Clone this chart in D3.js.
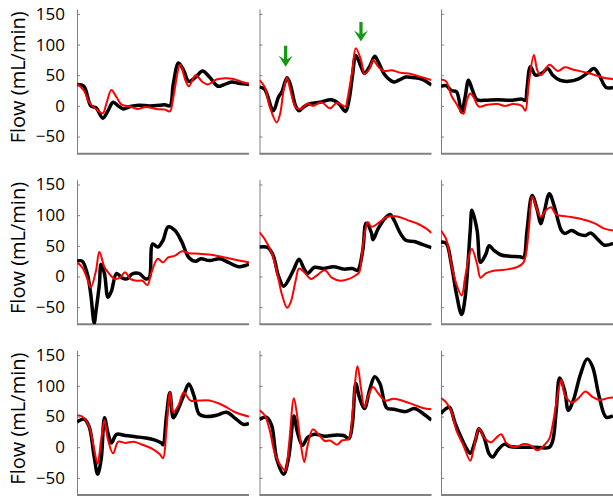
<!DOCTYPE html>
<html>
<head>
<meta charset="utf-8">
<title>Flow panels</title>
<script src="https://cdn.jsdelivr.net/npm/d3@7"></script>
<style>
  body { margin: 0; background: #fff; }
  svg text { font-family: "Open Sans", sans-serif; fill: #000; }
  .axis path, .axis line { stroke: #808080; }
</style>
</head>
<body>
<svg id="chart" width="613" height="498"></svg>
<script>
// values, x = % of cycle, y = flow (mL/min)
var yTicks = [-50, 0, 50, 100, 150];
var yLabel = "Flow (mL/min)";

var black1 = [[0,35],[4,32],[8,0],[11,-3],[15,-20],[18,-8],[21,6],[24,0],[27,-5],[31,-1],[36,1],[42,0],[48,1],[51,2],[54,0],[56,36],[59,70],[62,58],[65,40],[69,47],[73,57],[77,47],[82,32],[85,34],[90,39],[94,37],[100,35]];
var red1 = [[0,36],[4,25],[7,6],[11,-5],[15,-12],[17,3],[20,26],[23,14],[26,2],[31,-1],[35,-5],[40,-2],[46,-5],[51,-6],[54,-9],[56,14],[60,67],[63,42],[65,32],[69,50],[73,39],[76,35],[81,43],[86,45],[91,44],[96,39],[100,36]];

var black2 = [[0,31],[3,27],[8,-8],[11,14],[13,23],[16,46],[18,34],[21,0],[23,-8],[26,-1],[30,4],[35,6],[42,10],[46,4],[50,-9],[52,9],[54,48],[56,82],[59,64],[61,53],[64,64],[67,81],[69,72],[73,50],[78,39],[81,42],[85,47],[90,46],[95,43],[100,34]];
var red2 = [[0,42],[3,31],[6,-2],[10,-27],[12,-13],[14,25],[16,46],[18,25],[21,-2],[24,-5],[28,4],[31,0],[36,6],[41,-4],[45,5],[50,-1],[51,9],[54,58],[56,94],[59,75],[61,52],[64,61],[66,75],[69,64],[72,57],[77,58],[82,54],[88,52],[94,47],[100,42]];

var black3 = [[0,32],[3,33],[6,25],[9,23],[12,-10],[14,14],[16,42],[18,28],[21,10],[25,9],[33,10],[40,9],[47,11],[49,9],[50,28],[52,64],[55,50],[59,54],[62,61],[65,50],[69,42],[74,40],[80,44],[85,53],[89,61],[92,50],[96,30],[100,30]];
var red3 = [[0,43],[3,40],[6,17],[9,3],[13,-13],[15,9],[17,20],[19,14],[22,-1],[27,2],[33,3],[37,0],[42,3],[47,0],[49,-8],[51,36],[54,83],[56,58],[58,50],[63,67],[68,57],[72,63],[77,59],[85,54],[91,49],[96,45],[100,44]];

var black4 = [[0,25],[3,25],[6,4],[8,-29],[10,-76],[11,-57],[13,-13],[14,20],[16,4],[18,-34],[20,-24],[23,5],[26,-2],[29,-4],[32,4],[36,5],[40,-4],[42,-2],[44,53],[47,48],[50,59],[53,81],[57,75],[61,56],[65,31],[69,25],[72,29],[77,26],[83,29],[88,23],[94,16],[98,18],[100,20]];
var red4 = [[0,23],[3,15],[6,-4],[8,-18],[11,9],[13,40],[16,15],[18,7],[22,-4],[25,-2],[28,7],[31,-4],[35,-7],[38,-7],[41,-14],[43,4],[47,29],[50,23],[53,31],[57,34],[61,41],[65,38],[71,37],[79,35],[86,31],[94,26],[100,23]];

var black5 = [[0,48],[5,47],[8,34],[11,1],[14,-16],[17,-5],[20,12],[23,28],[26,12],[28,5],[32,15],[37,13],[43,16],[49,12],[54,13],[57,10],[60,42],[62,87],[65,72],[66,60],[69,78],[73,95],[76,101],[78,93],[82,70],[85,59],[90,57],[95,52],[100,47]];
var red5 = [[0,72],[3,61],[7,39],[10,9],[13,-29],[16,-51],[18,-43],[21,-7],[23,13],[26,7],[30,-4],[33,1],[38,10],[42,-2],[47,-7],[52,-4],[56,2],[58,7],[60,48],[63,89],[65,81],[67,83],[70,89],[74,97],[80,98],[86,92],[92,86],[97,78],[100,71]];

var black6 = [[0,56],[3,54],[6,20],[9,-29],[12,-62],[14,-35],[17,75],[18,108],[21,75],[23,23],[26,36],[28,50],[31,42],[35,35],[40,33],[46,32],[48,31],[50,75],[53,132],[56,108],[58,86],[60,105],[63,135],[66,113],[70,75],[72,70],[76,75],[80,69],[84,67],[87,71],[91,61],[95,51],[100,54]];
var red6 = [[0,75],[3,61],[6,20],[9,-13],[12,-31],[14,-2],[17,41],[18,45],[21,20],[23,-2],[26,5],[30,9],[37,11],[44,15],[48,23],[51,75],[53,130],[56,108],[58,97],[61,108],[64,113],[67,101],[73,98],[81,94],[89,87],[95,78],[100,75]];

var black7 = [[0,41],[4,46],[7,34],[10,-16],[12,-44],[14,-21],[16,48],[18,23],[20,7],[23,21],[28,19],[34,17],[40,15],[45,12],[49,7],[50,4],[52,51],[54,89],[56,48],[58,57],[62,84],[65,103],[68,84],[71,54],[75,50],[81,52],[87,57],[92,47],[97,37],[100,39]];
var red7 = [[0,52],[3,50],[7,34],[10,-4],[12,-27],[14,12],[16,44],[18,12],[21,-10],[24,9],[28,7],[33,9],[38,4],[44,-3],[48,-11],[50,-18],[52,29],[54,90],[56,57],[59,68],[62,89],[66,76],[71,76],[77,76],[85,68],[92,57],[100,50]];

var black8 = [[0,45],[4,49],[7,36],[10,-19],[14,-44],[17,-16],[20,51],[22,25],[25,3],[28,16],[32,21],[38,18],[45,20],[49,19],[52,14],[54,38],[56,104],[58,82],[61,63],[64,93],[67,115],[70,104],[74,64],[78,62],[85,58],[90,63],[95,55],[100,44]];
var red8 = [[0,60],[3,52],[6,27],[9,-11],[13,-33],[15,-38],[17,0],[20,80],[22,49],[24,5],[26,-24],[28,3],[31,29],[34,22],[38,10],[41,11],[45,4],[48,11],[52,14],[54,55],[57,132],[59,96],[61,65],[63,82],[66,98],[69,88],[73,76],[78,79],[84,75],[90,69],[95,64],[100,62]];

var black9 = [[0,55],[3,63],[5,65],[8,41],[12,14],[15,-3],[17,-10],[20,11],[22,30],[25,16],[28,-11],[30,-16],[33,-5],[37,5],[40,1],[46,0],[54,0],[63,0],[65,11],[67,60],[69,113],[72,91],[74,60],[77,77],[81,118],[85,144],[88,132],[92,82],[96,49],[100,51]];
var red9 = [[0,80],[3,73],[6,58],[9,27],[13,3],[17,-22],[19,-3],[22,30],[25,16],[29,8],[32,15],[35,21],[38,7],[43,0],[48,5],[52,3],[56,-5],[60,3],[63,14],[65,38],[67,71],[70,110],[72,85],[76,73],[80,80],[84,91],[88,82],[92,77],[97,80],[100,81]];

// green arrows in panel 2: [x, tip value, top value]
var arrows = [[15.2, 64, 98], [59, 105, 137]];

var panels = [
  [black1, red1], [black2, red2], [black3, red3],
  [black4, red4], [black5, red5], [black6, red6],
  [black7, red7], [black8, red8], [black9, red9]
];

var colX = [77, 259.5, 441],
    rowTop = [9, 179.6, 350.3],
    pw = 172, ph = 144.7;

var svg = d3.select('#chart');

var x = d3.scaleLinear().domain([0, 100]).range([0, pw]);
var y = d3.scaleLinear().domain([-78, 158]).range([ph, 0]);

var line = d3.line()
  .x(function(d) { return x(d[0]); })
  .y(function(d) { return y(d[1]); })
  .curve(d3.curveCatmullRom.alpha(0.5));

svg.append('defs').append('clipPath').attr('id', 'clip')
  .append('rect').attr('x', 0).attr('y', 0).attr('width', pw).attr('height', ph);

panels.forEach(function(p, i) {
  var r = Math.floor(i / 3), c = i % 3;
  var g = svg.append('g').attr('transform', 'translate(' + colX[c] + ',' + rowTop[r] + ')');

  var ax = d3.axisLeft(y).tickValues(yTicks).tickSizeInner(-3).tickSizeOuter(0).tickPadding(12);
  if (c > 0) ax.tickFormat('');
  g.append('g').attr('class', 'axis').call(ax)
    .call(function(a) { a.selectAll('text').style('font-size', '17px').attr('fill', '#000'); });

  g.append('line').attr('class', 'axis')
    .attr('x1', 0).attr('x2', pw).attr('y1', ph).attr('y2', ph)
    .attr('stroke', '#808080').attr('stroke-width', 2);

  var plot = g.append('g').attr('clip-path', 'url(#clip)');
  plot.append('path').datum(p[0]).attr('d', line)
    .attr('fill', 'none').attr('stroke', '#000').attr('stroke-width', 3.5)
    .attr('stroke-linejoin', 'round');
  plot.append('path').datum(p[1]).attr('d', line)
    .attr('fill', 'none').attr('stroke', '#ff0000').attr('stroke-width', 2)
    .attr('stroke-linejoin', 'round');

  if (c === 0) {
    svg.append('text')
      .attr('transform', 'translate(25,' + (rowTop[r] + ph / 2 - 4) + ') rotate(-90)')
      .attr('text-anchor', 'middle')
      .style('font-size', '20px')
      .text(yLabel);
  }

  if (i === 1) {
    arrows.forEach(function(a) {
      var ax0 = x(a[0]), tip = y(a[1]), top = y(a[2]), h = tip - top;
      g.append('path')
        .attr('transform', 'translate(' + ax0 + ',' + tip + ')')
        .attr('d', 'M0,0L-7,-11L-1.6,-7.5L-1.6,' + (-h) + 'L1.6,' + (-h) + 'L1.6,-7.5L7,-11Z')
        .attr('fill', '#119a11');
    });
  }
});
</script>
</body>
</html>
